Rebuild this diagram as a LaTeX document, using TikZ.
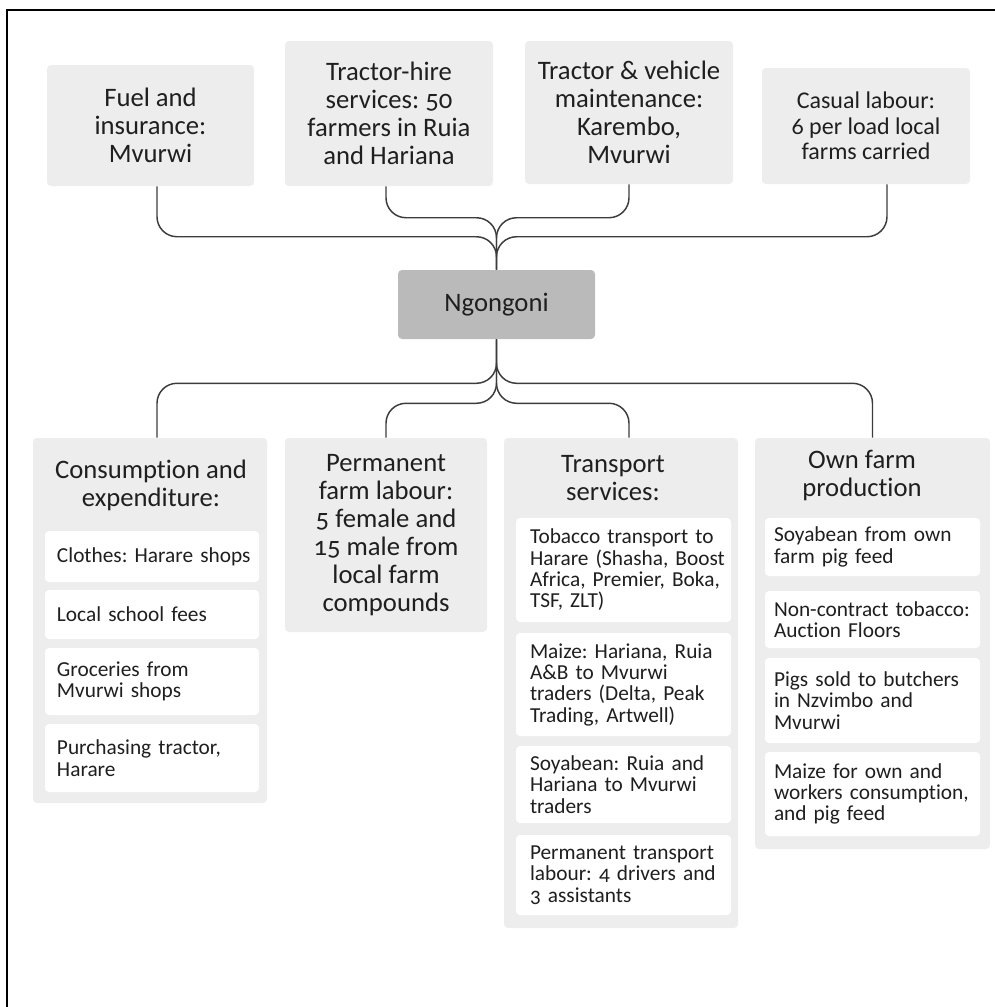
\documentclass[tikz,border=0pt]{standalone}
\usepackage{fontspec}
\setmainfont{Carlito}[Numbers=OldStyle, Ligatures=NoCommon]
\usetikzlibrary{calc}
\definecolor{boxgray}{HTML}{EDEDED}
\definecolor{hubgray}{HTML}{BABABA}
\definecolor{ink}{HTML}{1F1F1F}
\definecolor{wire}{HTML}{3C3C3C}
\frenchspacing

\begin{document}
\begin{tikzpicture}[x=0.75pt,y=-0.75pt,
  every node/.style={text=ink, inner sep=0pt},
  panel/.style={fill=boxgray, rounded corners=3pt, align=center,
                font=\fontsize{20}{21}\selectfont},
  hub/.style={fill=hubgray, rounded corners=3pt, font=\fontsize{20}{21}\selectfont},
  heading/.style={align=center, font=\fontsize{20}{21}\selectfont},
  % white entry box: narrow symmetric padding, extra left indent via \leftskip
  item/.style={fill=white, rounded corners=3pt, align=left, inner xsep=4pt,
               font=\fontsize{16}{16}\selectfont},
  indent/.style={execute at begin node={\leftskip=#1\relax}},
  link/.style={draw=wire, line width=1.1pt, rounded corners=15pt},
  frame/.style={draw=black, line width=1.5pt}
]
\useasboundingbox (0,0) rectangle (995,1007);
\draw[frame] (7,1007) -- (7,10) -- (995,10);

% ---- upstream inputs ----
\node[panel, minimum width=155.25pt, minimum height=90.75pt] (fuel) at (150.5,125.5)
  {Fuel and\\insurance:\\Mvurwi};
\node[panel, minimum width=156pt, minimum height=108.75pt] (hire) at (389,113.5)
  {Tractor-hire\\services: 50\\farmers in Ruia\\and Hariana};
\node[panel, minimum width=156pt, minimum height=107.25pt] (maint) at (629,112.5)
  {Tractor \& vehicle\\maintenance:\\Karembo,\\Mvurwi};
\node[panel, minimum width=156pt, minimum height=87pt,
      font=\fontsize{18}{19}\selectfont] (casual) at (866,126)
  {Casual labour:\\6 per load local\\farms carried};

% ---- central farm ----
\node[hub, minimum width=147.75pt, minimum height=51.75pt] (ngon) at (496.5,304.5) {Ngongoni};

% ---- downstream groups ----
\node[panel, minimum width=175.5pt, minimum height=273.75pt] (cons) at (150,620.5) {};
\node[panel, minimum width=151.5pt, minimum height=145.5pt] (perm) at (386,535)
  {Permanent\\farm labour:\\5 female and\\15 male from\\local farm\\compounds};
\node[panel, minimum width=175.5pt, minimum height=367.5pt] (trans) at (621,683) {};
\node[panel, minimum width=176.25pt, minimum height=308.25pt] (own) at (872.5,643.5) {};

\node[heading] (conshead) at (151,485) {Consumption and\\expenditure:};
\node[heading] (transhead) at (613,478) {Transport\\services:};
\node[heading] (ownhead) at (862,476) {Own farm\\production};

% consumption items
\begin{scope}[every node/.append style={item, indent=5pt, text width=152.5pt, minimum width=160.5pt}]
\node[minimum height=38.25pt] (c1) at (152,556.5) {Clothes: Harare shops};
\node[minimum height=36.75pt] (c2) at (152,614.5) {Local school fees};
\node[minimum height=50.25pt] (c3) at (152,681.5) {Groceries from\\Mvurwi shops};
\node[minimum height=51pt] (c4) at (152,758) {Purchasing tractor,\\Harare};
\end{scope}

% transport items
\begin{scope}[every node/.append style={item, indent=6.5pt, text width=153.25pt, minimum width=161.25pt}]
\node[minimum height=78pt] (t1) at (623.5,570)
  {Tobacco transport to\\Harare (Shasha, Boost\\Africa, Premier, Boka,\\TSF, ZLT)};
\node[minimum height=77.25pt] (t2) at (623.5,684.5)
  {Maize: Hariana, Ruia\\A\&B to Mvurwi\\traders (Delta, Peak\\Trading, Artwell)};
\node[minimum height=57.75pt] (t3) at (623.5,784.5)
  {Soyabean: Ruia and\\Hariana to Mvurwi\\traders};
\node[minimum height=60pt] (t4) at (623.5,875)
  {Permanent transport\\labour: 4 drivers and\\3 assistants};
\end{scope}

% own farm items
\begin{scope}[every node/.append style={item, indent=2.75pt, text width=153.25pt, minimum width=161.25pt}]
\node[minimum height=43.5pt] (o1) at (872.5,547) {Soyabean from own\\farm pig feed};
\node[minimum height=42.75pt] (o2) at (872.5,619.5) {Non-contract tobacco:\\Auction Floors};
\node[minimum height=63.75pt] (o3) at (872.5,700.5) {Pigs sold to butchers\\in Nzvimbo and\\Mvurwi};
\node[minimum height=63pt] (o4) at (872.5,794) {Maize for own and\\workers consumption,\\and pig feed};
\end{scope}

% ---- connectors into the hub ----
\draw[link] ($(fuel.south)+(6.5,0)$) |- ($(ngon.north)+(0,-33)$) -- (ngon.north);
\draw[link] ($(hire.south)+(-3,0)$) |- ($(ngon.north)+(0,-52)$) -- (ngon.north);
\draw[link] (maint.south) |- ($(ngon.north)+(0,-52)$) -- (ngon.north);
\draw[link] ($(casual.south)+(21,0)$) |- ($(ngon.north)+(0,-33)$) -- (ngon.north);

% ---- connectors out of the hub ----
\draw[link] (ngon.south) -- ($(ngon.south)+(0,44)$) -| ($(cons.north)+(7,0)$);
\draw[link] (ngon.south) -- ($(ngon.south)+(0,64)$) -| (perm.north);
\draw[link] (ngon.south) -- ($(ngon.south)+(0,64)$) -| ($(trans.north)+(8,0)$);
\draw[link] (ngon.south) -- ($(ngon.south)+(0,44)$) -| (own.north);
\end{tikzpicture}
\end{document}
